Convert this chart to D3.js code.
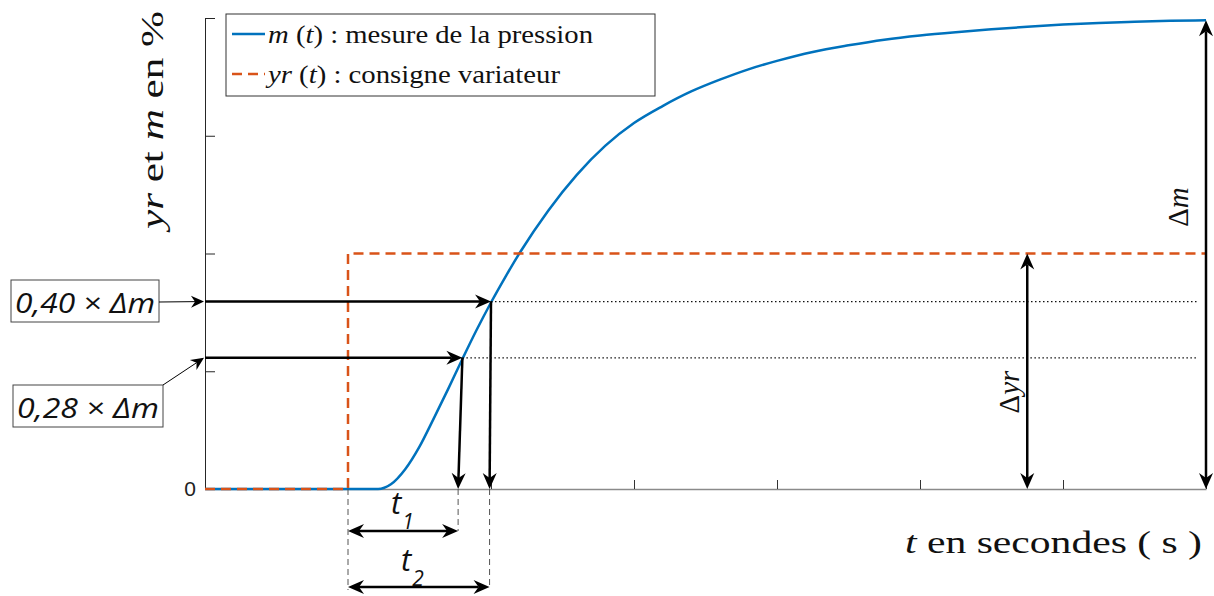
<!DOCTYPE html>
<html>
<head>
<meta charset="utf-8">
<script src="https://cdn.jsdelivr.net/npm/d3@7"></script>
<style>
  html, body { margin: 0; padding: 0; background: #fff; }
  svg { display: block; }
  .ytick-label { font-family: 'Liberation Sans', Arial, sans-serif; font-size: 21px; }
</style>
</head>
<body>
<svg id="chart" width="1214" height="596"></svg>
<script>
// Step response: measured pressure m(t) and drive set-point yr(t), in %
const timeS   = [0, 1, 1.21, 1.30, 1.40, 1.50, 1.60, 1.70, 1.80, 1.90, 2.00, 2.10, 2.20, 2.40, 2.60, 2.80, 3.00, 3.20, 3.40, 3.60, 3.80, 4.00, 4.25, 4.50, 4.75, 5.00, 5.25, 5.50, 5.75, 6.00, 6.25, 6.50, 6.75, 7.00];
const mesure  = [0, 0, 0, 1.0, 4.2, 9.0, 15.0, 21.2, 27.6, 33.8, 39.6, 45.0, 50.1, 59.1, 66.7, 72.9, 77.7, 81.3, 84.4, 86.9, 89.1, 90.9, 92.8, 94.2, 95.4, 96.3, 97.0, 97.6, 98.15, 98.6, 98.95, 99.2, 99.4, 99.5];
const stepT    = [0, 1, 1, 7];
const consigne = [0, 0, 50, 50];

const xTicks = [0, 1, 2, 3, 4, 5, 6, 7];
const yTicks = [0, 25, 50, 75, 100];
const yTickLabels = ["0", "", "", "", ""];

// Broïda-style reading points
const fractions      = [0.40, 0.28];
const fractionLabels = ["0,40 × Δm", "0,28 × Δm"];
const crossT = [2.00, 1.80];   // where m(t) reaches each fraction
const footT  = [1.99, 1.77];   // where the drop arrows meet the time axis
const stepTime = 1;
const dyrAt = 5.75;            // position of the Δyr dimension arrow
const dotEnd = 6.94;

const BLUE = "#0072BD", ORANGE = "#D95319";
const SERIF = "'Liberation Serif', 'DejaVu Serif', serif";
const SANS_IT = "'Open Sans', 'Noto Sans', sans-serif";

const svg = d3.select("#chart");
const x = d3.scaleLinear().domain([0, 7]).range([205, 1206]);
const y = d3.scaleLinear().domain([0, 100]).range([489, 18]);

const dm = mesure[mesure.length - 1];       // Δm
const dyr = consigne[consigne.length - 1];  // Δyr

// ---- axes ----
const xAxis = svg.append("g").attr("transform", `translate(0,${y(0)})`)
  .call(d3.axisBottom(x).tickValues(xTicks).tickSize(-9).tickSizeOuter(0).tickFormat(""));
xAxis.select(".domain").attr("stroke", "#8a8a8a").attr("stroke-width", 1.5);
xAxis.selectAll(".tick line").attr("stroke", "#333").attr("stroke-width", 1);

const yAxis = svg.append("g").attr("transform", `translate(${x(0)},0)`)
  .call(d3.axisLeft(y).tickValues(yTicks).tickSize(-10).tickSizeOuter(0).tickPadding(9)
    .tickFormat((d, i) => yTickLabels[i]));
yAxis.attr("font-size", 21).attr("font-family", "'Liberation Sans', Arial, sans-serif");
yAxis.select(".domain").attr("stroke", "#262626").attr("stroke-width", 1);
yAxis.selectAll(".tick line").attr("stroke", "#262626").attr("stroke-width", 1);
yAxis.selectAll(".tick text").attr("class", "ytick-label").attr("font-size", 21).attr("fill", "#222");

// ---- series ----
svg.append("path")
  .datum(timeS.map((t, i) => [t, mesure[i]]))
  .attr("fill", "none").attr("stroke", BLUE).attr("stroke-width", 2.5)
  .attr("d", d3.line().x(d => x(d[0])).y(d => y(d[1])).curve(d3.curveMonotoneX));

svg.append("path")
  .datum(stepT.map((t, i) => [t, consigne[i]]))
  .attr("fill", "none").attr("stroke", ORANGE).attr("stroke-width", 2.5)
  .attr("stroke-dasharray", "10,6")
  .attr("d", d3.line().x(d => x(d[0])).y(d => y(d[1])));

// ---- arrow helper ----
function arrow(g, x1, y1, x2, y2, o) {
  const w = o.w ?? 2.5, L = o.L ?? 16, W = o.W ?? 7, N = o.N ?? 11;
  const color = o.color ?? "#000";
  const dx = x2 - x1, dy = y2 - y1, len = Math.hypot(dx, dy);
  const ux = dx / len, uy = dy / len;
  let sx = x1, sy = y1, ex = x2, ey = y2;
  if (o.end !== false) { ex = x2 - ux * N; ey = y2 - uy * N; }
  if (o.start) { sx = x1 + ux * N; sy = y1 + uy * N; }
  g.append("line").attr("x1", sx).attr("y1", sy).attr("x2", ex).attr("y2", ey)
    .attr("stroke", color).attr("stroke-width", w);
  const head = (tx, ty, vx, vy) => {
    const px = -vy, py = vx;
    g.append("path")
      .attr("d", `M${tx},${ty} L${tx - vx * L + px * W},${ty - vy * L + py * W} ` +
                 `L${tx - vx * N},${ty - vy * N} L${tx - vx * L - px * W},${ty - vy * L - py * W} Z`)
      .attr("fill", color);
  };
  if (o.end !== false) head(x2, y2, ux, uy);
  if (o.start) head(x1, y1, -ux, -uy);
}

const ann = svg.append("g");

// dotted guides, horizontal arrows and drop arrows for each fraction
fractions.forEach((f, i) => {
  const lv = f * dm;
  ann.append("line")
    .attr("x1", x(crossT[i])).attr("x2", x(dotEnd))
    .attr("y1", y(lv)).attr("y2", y(lv))
    .attr("stroke", "#111").attr("stroke-width", 1.3).attr("stroke-dasharray", "1.5,2.5");
  arrow(ann, x(0), y(lv), x(crossT[i]), y(lv), {});
  arrow(ann, x(crossT[i]), y(lv), x(footT[i]), y(0), {});
});

// dashed leaders below the time axis
const base = y(0);
const leaders = [[stepTime, 101], [footT[1], 42], [footT[0], 98]];
leaders.forEach(([t, depth]) => {
  ann.append("line").attr("x1", x(t)).attr("x2", x(t))
    .attr("y1", base).attr("y2", base + depth)
    .attr("stroke", "#555").attr("stroke-width", 1).attr("stroke-dasharray", "6,4");
});

// t1 and t2 dimension arrows
arrow(ann, x(stepTime), base + 42, x(footT[1]), base + 42, { start: true });
arrow(ann, x(stepTime), base + 98, x(footT[0]), base + 98, { start: true });

function tLabel(px, py, sub) {
  const t = ann.append("text").attr("x", px).attr("y", py)
    .attr("font-family", SANS_IT).attr("font-style", "italic").attr("fill", "#111");
  t.append("tspan").attr("font-size", 31).text("t");
  t.append("tspan").attr("font-size", 21).attr("dx", 1).attr("dy", 15).text(sub);
}
tLabel(391, 514, "1");
tLabel(401, 571, "2");

// Δyr and Δm dimension arrows
arrow(ann, x(dyrAt), y(0), x(dyrAt), y(dyr), { start: true });
arrow(ann, x(7), y(0), x(7), y(dm), { start: true });

function rotLabel(px, py, parts, size) {
  const t = ann.append("text").attr("transform", `translate(${px},${py}) rotate(-90)`)
    .attr("text-anchor", "middle").attr("font-family", SERIF).attr("font-size", size).attr("fill", "#111");
  parts.forEach(([s, it]) => t.append("tspan").attr("font-style", it ? "italic" : "normal").text(s));
  return t;
}
rotLabel(1019, 392, [["Δ", false], ["yr", true]], 29);
rotLabel(1188, 207, [["Δ", false], ["m", true]], 29);

// boxed fraction labels with thin leader arrows
const boxes = [
  { bx: 11, by: 280, bw: 148, bh: 42, tx: 15, ty: 313, from: [159, 302] },
  { bx: 13, by: 385, bw: 150, bh: 42, tx: 17, ty: 418, from: [163, 385] }
];
boxes.forEach((b, i) => {
  ann.append("rect").attr("x", b.bx).attr("y", b.by).attr("width", b.bw).attr("height", b.bh)
    .attr("fill", "#fff").attr("stroke", "#444").attr("stroke-width", 1);
  ann.append("text").attr("x", b.tx).attr("y", b.ty)
    .attr("font-family", SANS_IT).attr("font-style", "italic").attr("font-size", 27)
    .attr("fill", "#111").attr("textLength", b.bw - 8).attr("lengthAdjust", "spacingAndGlyphs")
    .text(fractionLabels[i]);
  arrow(ann, b.from[0], b.from[1], x(0) - 1, y(fractions[i] * dm), { w: 1, L: 13, W: 6, N: 9 });
});

// axis titles
const yl = svg.append("text").attr("transform", "translate(163,120) rotate(-90)")
  .attr("text-anchor", "middle").attr("font-family", SERIF).attr("font-size", 31).attr("fill", "#111")
  .attr("textLength", 218).attr("lengthAdjust", "spacingAndGlyphs");
[["yr", true], [" et ", false], ["m", true], [" en %", false]]
  .forEach(([s, it]) => yl.append("tspan").attr("font-style", it ? "italic" : "normal").text(s));

const xl = svg.append("text").attr("x", 905).attr("y", 553)
  .attr("font-family", SERIF).attr("font-size", 32).attr("fill", "#111")
  .attr("textLength", 297).attr("lengthAdjust", "spacingAndGlyphs");
xl.append("tspan").attr("font-style", "italic").text("t");
xl.append("tspan").text(" en secondes ( s )");

// legend
const lg = svg.append("g");
lg.append("rect").attr("x", 226).attr("y", 14).attr("width", 429).attr("height", 82)
  .attr("fill", "#fff").attr("stroke", "#333").attr("stroke-width", 1);
const legendItems = [
  { color: BLUE, dash: null, name: "m", rest: " : mesure de la pression", ly: 34, ty: 43, w: 325 },
  { color: ORANGE, dash: "10,6", name: "yr", rest: " : consigne variateur", ly: 74, ty: 83, w: 292 }
];
legendItems.forEach(it => {
  lg.append("line").attr("x1", 232).attr("x2", 265).attr("y1", it.ly).attr("y2", it.ly)
    .attr("stroke", it.color).attr("stroke-width", 2.5).attr("stroke-dasharray", it.dash);
  const t = lg.append("text").attr("x", 268).attr("y", it.ty)
    .attr("font-family", SERIF).attr("font-size", 25).attr("fill", "#111")
    .attr("textLength", it.w).attr("lengthAdjust", "spacingAndGlyphs");
  t.append("tspan").attr("font-style", "italic").text(it.name);
  t.append("tspan").text(" (");
  t.append("tspan").attr("font-style", "italic").text("t");
  t.append("tspan").text(")" + it.rest);
});
</script>
</body>
</html>
